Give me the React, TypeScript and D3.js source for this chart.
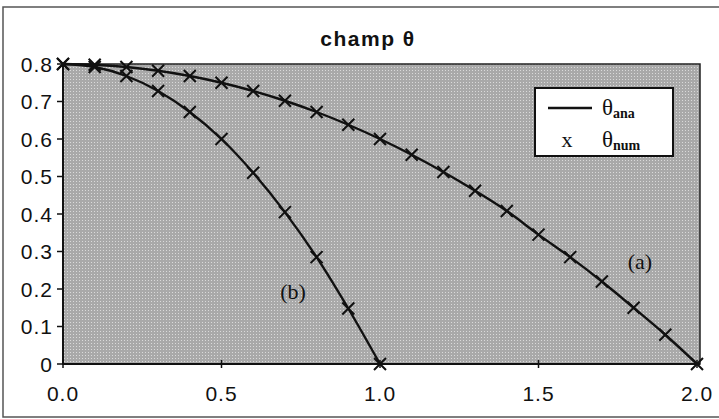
import React from 'react';
import * as d3 from 'd3';

// x positions (step 0.1) and values
const xsA = [0, 0.1, 0.2, 0.3, 0.4, 0.5, 0.6, 0.7, 0.8, 0.9, 1.0, 1.1, 1.2, 1.3, 1.4, 1.5, 1.6, 1.7, 1.8, 1.9, 2.0];
const thetaA = [0.8, 0.798, 0.792, 0.782, 0.768, 0.75, 0.728, 0.702, 0.672, 0.638, 0.6, 0.558, 0.512, 0.462, 0.408, 0.345, 0.285, 0.22, 0.15, 0.078, 0];
const xsB = [0, 0.1, 0.2, 0.3, 0.4, 0.5, 0.6, 0.7, 0.8, 0.9, 1.0];
const thetaB = [0.8, 0.792, 0.768, 0.728, 0.672, 0.6, 0.51, 0.405, 0.285, 0.148, 0];
const xTicks = [0, 0.5, 1.0, 1.5, 2.0];
const yTicks = [0, 0.1, 0.2, 0.3, 0.4, 0.5, 0.6, 0.7, 0.8];

const W = 719;
const H = 419;
const margin = { top: 64, right: 20, bottom: 55, left: 63 };

export default function App() {
  const x = d3.scaleLinear().domain([0, 2]).range([margin.left, W - margin.right - 2]);
  const y = d3.scaleLinear().domain([0, 0.8]).range([H - margin.bottom, margin.top]);
  const plotRight = x(2) + 3;

  const curve = d3.line<[number, number]>()
    .x(d => x(d[0]))
    .y(d => y(d[1]))
    .curve(d3.curveMonotoneX);

  const ptsA: [number, number][] = xsA.map((v, i) => [v, thetaA[i]]);
  const ptsB: [number, number][] = xsB.map((v, i) => [v, thetaB[i]]);
  const font = '"Liberation Sans", Arial, sans-serif';
  const serif = '"Liberation Serif", "Times New Roman", serif';
  const m = 6;

  const cross = (p: [number, number], key: string) => {
    const cx = x(p[0]);
    const cy = y(p[1]);
    return (
      <path key={key} d={`M${cx - m},${cy - m}L${cx + m},${cy + m}M${cx - m},${cy + m}L${cx + m},${cy - m}`}
        stroke="#111" strokeWidth={2} fill="none" />
    );
  };

  return (
    <svg width={W} height={H} style={{ position: 'absolute', left: 0, top: 0, background: '#fff' }}>
      <defs>
        <pattern id="dots" width={3} height={3} patternUnits="userSpaceOnUse">
          <rect width={3} height={3} fill="#a9a9a9" />
          <rect x={1} y={1} width={1} height={1} fill="#dadada" />
        </pattern>
      </defs>
      {/* outer frame */}
      <rect x={3} y={7} width={W - 2} height={H - 9} fill="none" stroke="#555" strokeWidth={1.5} />

      <text x={368} y={46} textAnchor="middle" fontFamily={font} fontWeight="bold" fontSize={21} letterSpacing={1.5} fill="#111">
        champ θ
      </text>

      {/* plot area */}
      <rect x={margin.left} y={margin.top} width={plotRight - margin.left} height={y(0) - margin.top}
        fill="url(#dots)" stroke="#222" strokeWidth={1.5} />

      {/* axes */}
      <line x1={margin.left} x2={margin.left} y1={margin.top} y2={y(0)} stroke="#111" strokeWidth={2} />
      <line x1={margin.left} x2={plotRight} y1={y(0)} y2={y(0)} stroke="#111" strokeWidth={2} />
      {yTicks.map(t => (
        <g key={'y' + t}>
          <line x1={margin.left - 6} x2={margin.left} y1={y(t)} y2={y(t)} stroke="#111" strokeWidth={1.5} />
          <text x={margin.left - 10} y={y(t)} dy="0.36em" textAnchor="end" fontFamily={font} fontSize={21} letterSpacing={1} fill="#111">
            {t === 0 ? '0' : t.toFixed(1)}
          </text>
        </g>
      ))}
      {xTicks.map(t => (
        <g key={'x' + t}>
          <line x1={x(t)} x2={x(t)} y1={y(0) - 4} y2={y(0) + 4} stroke="#111" strokeWidth={1.5} />
          <text x={x(t)} y={401} textAnchor="middle" fontFamily={font} fontSize={21} letterSpacing={1} fill="#111">
            {t.toFixed(1)}
          </text>
        </g>
      ))}

      {/* curves */}
      <path d={curve(ptsA) || ''} fill="none" stroke="#111" strokeWidth={2.4} />
      <path d={curve(ptsB) || ''} fill="none" stroke="#111" strokeWidth={2.4} />
      {ptsA.map((p, i) => cross(p, 'a' + i))}
      {ptsB.map((p, i) => cross(p, 'b' + i))}

      <text x={640} y={269} textAnchor="middle" fontFamily={serif} fontSize={22} fill="#111">(a)</text>
      <text x={293} y={299} textAnchor="middle" fontFamily={serif} fontSize={22} fill="#111">(b)</text>

      {/* legend */}
      <rect x={535} y={88} width={138} height={68} fill="#fff" stroke="#111" strokeWidth={2} />
      <line x1={548} x2={592} y1={108} y2={108} stroke="#111" strokeWidth={2.4} />
      <text x={602} y={115} fontFamily={serif} fontSize={23} fill="#111">
        θ<tspan fontSize={14} fontWeight="bold" dy={3}>ana</tspan>
      </text>
      <text x={567} y={147} textAnchor="middle" fontFamily={serif} fontSize={22} fill="#111">x</text>
      <text x={602} y={147} fontFamily={serif} fontSize={23} fill="#111">
        θ<tspan fontSize={14} fontWeight="bold" dy={3}>num</tspan>
      </text>
    </svg>
  );
}
